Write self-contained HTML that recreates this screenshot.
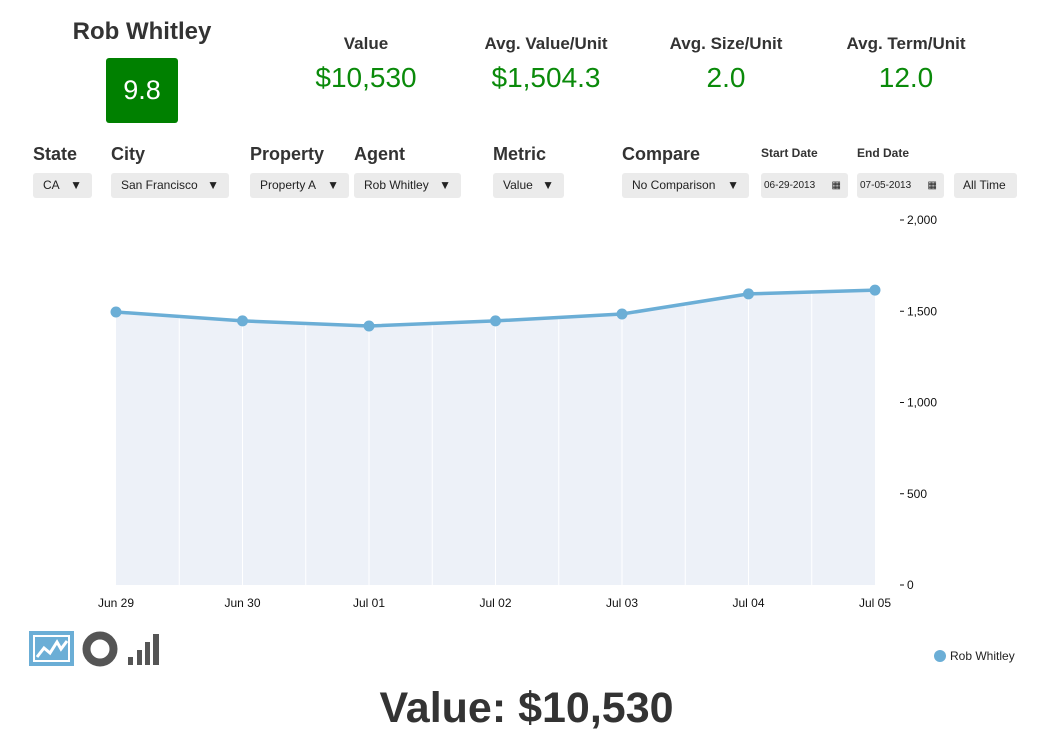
<!DOCTYPE html>
<html><head><meta charset="utf-8"><style>
body{margin:0;width:1053px;height:741px;background:#fff;font-family:"Liberation Sans",Arial,sans-serif;position:relative;overflow:hidden;color:#333}
.a{position:absolute}
.h{font-weight:bold;font-size:18px;color:#333}
.s{font-weight:bold;font-size:12px;color:#333}
.dd{position:absolute;top:173px;height:25px;background:#ebebeb;border-radius:3px;font-size:12px;line-height:25px;color:#222;box-sizing:border-box;padding-left:10px}
.dd .t{position:absolute;right:10px;top:0;font-size:12px}
.kl{position:absolute;font-weight:bold;font-size:17px;color:#333;text-align:center}
.kv{position:absolute;font-size:28px;color:#0a8a0a;text-align:center}
</style></head><body>
<div class="a" style="left:60px;top:18px;width:164px;text-align:center;font-weight:bold;font-size:24px;color:#333">Rob Whitley</div>
<div class="a" style="left:106px;top:58px;width:72px;height:65px;background:#008000;border-radius:3px;color:#fff;font-size:27px;line-height:65px;text-align:center">9.8</div>

<div class="kl" style="left:306px;top:34px;width:120px">Value</div>
<div class="kv" style="left:296px;top:62px;width:140px">$10,530</div>
<div class="kl" style="left:466px;top:34px;width:160px">Avg. Value/Unit</div>
<div class="kv" style="left:466px;top:62px;width:160px">$1,504.3</div>
<div class="kl" style="left:651px;top:34px;width:150px">Avg. Size/Unit</div>
<div class="kv" style="left:651px;top:62px;width:150px">2.0</div>
<div class="kl" style="left:831px;top:34px;width:150px">Avg. Term/Unit</div>
<div class="kv" style="left:831px;top:62px;width:150px">12.0</div>

<div class="a h" style="left:33px;top:144px">State</div>
<div class="a h" style="left:111px;top:144px">City</div>
<div class="a h" style="left:250px;top:144px">Property</div>
<div class="a h" style="left:354px;top:144px">Agent</div>
<div class="a h" style="left:493px;top:144px">Metric</div>
<div class="a h" style="left:622px;top:144px">Compare</div>
<div class="a s" style="left:761px;top:146px">Start Date</div>
<div class="a s" style="left:857px;top:146px">End Date</div>

<div class="dd" style="left:33px;width:59px">CA<span class="t">▼</span></div>
<div class="dd" style="left:111px;width:118px">San Francisco<span class="t">▼</span></div>
<div class="dd" style="left:250px;width:99px">Property A<span class="t">▼</span></div>
<div class="dd" style="left:354px;width:107px">Rob Whitley<span class="t">▼</span></div>
<div class="dd" style="left:493px;width:71px">Value<span class="t">▼</span></div>
<div class="dd" style="left:622px;width:127px">No Comparison<span class="t">▼</span></div>
<div class="dd" style="left:761px;width:87px;padding-left:3px;font-size:10px">06-29-2013<span class="t" style="right:7px;font-size:10px">▦</span></div>
<div class="dd" style="left:857px;width:87px;padding-left:3px;font-size:10px">07-05-2013<span class="t" style="right:7px;font-size:10px">▦</span></div>
<div class="dd" style="left:954px;width:63px;padding-left:9px">All Time</div>

<svg class="a" style="left:0;top:0" width="1053" height="741" id="chart"></svg>

<div class="a" style="left:29px;top:631px;width:45px;height:35px;background:#6baed6">
<svg width="45" height="35"><rect x="4" y="4" width="37" height="27" fill="#fff"/><rect x="6" y="6" width="33" height="23" fill="#6baed6"/><polyline points="8,26 15,17 21,22 28,11 32,18 38,10" stroke="#fff" stroke-width="3" fill="none"/></svg></div>
<svg class="a" style="left:82px;top:631px" width="38" height="36"><circle cx="18" cy="18" r="13.5" stroke="#555" stroke-width="8" fill="none"/></svg>
<svg class="a" style="left:127px;top:631px" width="35" height="35"><rect x="1" y="26" width="5" height="8" fill="#555"/><rect x="10" y="19" width="5" height="15" fill="#555"/><rect x="18" y="11" width="5" height="23" fill="#555"/><rect x="26" y="3" width="6" height="31" fill="#555"/></svg>

<div class="a" style="left:934px;top:649px;font-size:12px;color:#222"><span style="display:inline-block;width:12px;height:12px;border-radius:6px;background:#6baed6;vertical-align:-2px;margin-right:4px"></span>Rob Whitley</div>

<div class="a" style="left:0;top:684px;width:1053px;text-align:center;font-weight:bold;font-size:43px;color:#333">Value: $10,530</div>

<script>
const categories=["Jun 29","Jun 30","Jul 01","Jul 02","Jul 03","Jul 04","Jul 05"];
const values=[1496,1447,1419,1447,1485,1595,1616];
const yTicks=[0,500,1000,1500,2000];
const yTickLabels=["0","500","1,000","1,500","2,000"];
const svg=document.getElementById('chart');
const NS='http://www.w3.org/2000/svg';
const x0=116,x1=875,y0=585,y1=220,ymax=2000;
const X=i=>x0+(x1-x0)*i/(categories.length-1);
const Y=v=>y0-(y0-y1)*v/ymax;
function mk(t,a){const e=document.createElementNS(NS,t);for(const k in a)e.setAttribute(k,a[k]);svg.appendChild(e);return e;}
let d='M'+X(0)+','+y0;values.forEach((v,i)=>d+=' L'+X(i)+','+Y(v));d+=' L'+X(values.length-1)+','+y0+' Z';
const area=mk('path',{d:d,fill:'#edf1f8'});


for(let k=1;k<(categories.length-1)*2;k++){const xx=x0+(x1-x0)*k/((categories.length-1)*2);
const g=mk('line',{x1:xx,x2:xx,y1:Y(0),y2:y1,stroke:'#fff','stroke-width':1});

}
const line=mk('polyline',{points:values.map((v,i)=>X(i)+','+Y(v)).join(' '),fill:'none',stroke:'#6baed6','stroke-width':3.5});


values.forEach((v,i)=>{const c=mk('circle',{cx:X(i),cy:Y(v),r:5.5,fill:'#6baed6'});

});
categories.forEach((c,i)=>{const t=mk('text',{x:X(i),y:607,'text-anchor':'middle','font-size':12,fill:'#111','font-family':'Liberation Sans, sans-serif'});t.textContent=c;

});
yTicks.forEach((v,i)=>{const tk=mk('line',{x1:900,x2:904,y1:Y(v),y2:Y(v),stroke:'#111'});


const t=mk('text',{x:907,y:Y(v)+4,'font-size':12,fill:'#111','font-family':'Liberation Sans, sans-serif'});t.textContent=yTickLabels[i];

});
</script>
</body></html>
